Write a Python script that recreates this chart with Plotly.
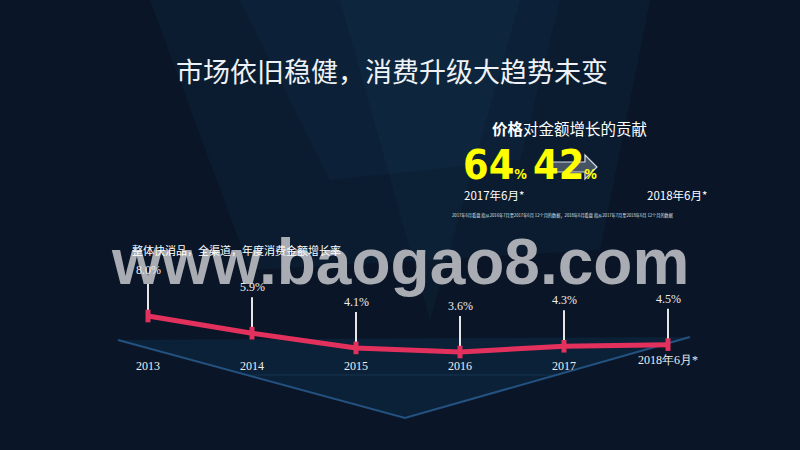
import plotly.graph_objects as go

# ---- data ----
categories = ["2013", "2014", "2015", "2016", "2017", "2018年6月*"]
growth = [8.0, 5.9, 4.1, 3.6, 4.3, 4.5]
value_labels = ["8.0%", "5.9%", "4.1%", "3.6%", "4.3%", "4.5%"]
price_share_periods = ["2017年6月*", "2018年6月*"]
price_share = [64, 42]

W, H = 800, 450
def px(x, y):
    return x / W, 1 - y / H

BG = "#0a1628"
STEM = 4.4  # stem height in data units
idx = list(range(len(categories)))

fig = go.Figure()

# stems (white) via error bars
fig.add_trace(go.Scatter(
    x=idx, y=growth, mode="markers",
    marker=dict(size=1, color="rgba(0,0,0,0)"),
    error_y=dict(type="data", symmetric=False, array=[STEM] * len(growth),
                 arrayminus=[0] * len(growth), color="#e6e6e6", thickness=2, width=0),
    hoverinfo="skip", showlegend=False))

# pink line
fig.add_trace(go.Scatter(
    x=idx, y=growth, mode="lines+markers",
    line=dict(color="#e3315e", width=5),
    marker=dict(size=9, color="#e3315e", symbol="line-ns", line=dict(width=5, color="#e3315e")),
    hoverinfo="skip", showlegend=False))

# x scale: index 0 -> px 148, spacing 104 px
x0, dx = 148, 104
xr = [-x0 / dx, (W - x0) / dx]
# y scale: 8.0 -> px 316, 3.6 -> px 352
k = 36 / 4.4
y_top = 8.0 + 316 / k
y_bot = 8.0 - (H - 316) / k

def pth(points, close=True):
    s = ""
    for i, (x, y) in enumerate(points):
        a, b = px(x, y)
        s += ("M " if i == 0 else " L ") + f"{a:.4f},{b:.4f}"
    return s + (" Z" if close else "")

shapes = []
# soft light in upper centre
shapes.append(dict(type="path", xref="paper", yref="paper", layer="below",
                   path=pth([(150, 0), (650, 0), (600, 250), (250, 270)]),
                   fillcolor="rgba(25,70,105,0.12)", line=dict(width=0)))
shapes.append(dict(type="path", xref="paper", yref="paper", layer="below",
                   path=pth([(240, 0), (560, 0), (520, 160), (330, 180)]),
                   fillcolor="rgba(25,75,110,0.12)", line=dict(width=0)))
shapes.append(dict(type="path", xref="paper", yref="paper", layer="below",
                   path=pth([(340, 0), (520, 0), (430, 320)]),
                   fillcolor="rgba(30,85,125,0.09)", line=dict(width=0)))
# chevron
shapes.append(dict(type="path", xref="paper", yref="paper", layer="below",
                   path=pth([(118, 340), (405, 418), (690, 337)]),
                   fillcolor="rgba(18,60,95,0.30)", line=dict(width=0)))
shapes.append(dict(type="path", xref="paper", yref="paper", layer="below",
                   path=pth([(118, 340), (405, 418), (690, 337)], close=False),
                   line=dict(color="rgba(45,100,155,0.75)", width=2)))
shapes.append(dict(type="line", xref="paper", yref="paper", layer="below",
                   x0=px(250, 375)[0], y0=px(250, 375)[1], x1=px(560, 375)[0], y1=px(560, 375)[1],
                   line=dict(color="rgba(40,90,130,0.35)", width=1)))
# arrow behind 42%
shapes.append(dict(type="path", xref="paper", yref="paper", layer="below",
                   path=pth([(548, 162), (585, 162), (585, 155), (597, 167),
                             (585, 179), (585, 172), (548, 172)]),
                   fillcolor="rgba(120,130,145,0.55)",
                   line=dict(color="#d8dde3", width=1.2)))

ann = []
def text(x, y, t, size, color="white", family="Noto Sans CJK SC", xanchor="center", yanchor="middle"):
    a, b = px(x, y)
    ann.append(dict(x=a, y=b, xref="paper", yref="paper", text=t, showarrow=False,
                    font=dict(size=size, color=color, family=family),
                    xanchor=xanchor, yanchor=yanchor))

# watermark
text(400, 262, "<b>www.baogao8.com</b>", 64, color="#a9acb2", family="Liberation Sans")
# title
text(392, 70, "市场依旧稳健，消费升级大趋势未变", 27, color="#eef2f6")
# price contribution
text(490, 128, "<b>价格</b>对金额增长的贡献", 15.5, xanchor="left")
COND = ("<span style='font-stretch:condensed'><b>{}</b></span>"
        "<span style='font-size:14px;font-stretch:condensed'><b>%</b></span>")
text(461, 165, COND.format(price_share[0]), 41,
     color="#ffff00", family="DejaVu Sans", xanchor="left")
text(531, 165, COND.format(price_share[1]), 41,
     color="#ffff00", family="DejaVu Sans", xanchor="left")
text(462, 195, price_share_periods[0], 11.5, xanchor="left")
text(645, 195, price_share_periods[1], 11.5, xanchor="left")
text(450, 215, "2017年6月看盘 指从2016年7月至2017年6月 12个月的数据，2018年6月看盘 指从2017年7月至2018年6月 12个月的数据",
     4.2, color="#dfe5ea", xanchor="left")
# chart subtitle
text(130, 250, "整体快消品，全渠道，年度消费金额增长率", 11, xanchor="left")

# value labels at top of stems
for i, v, lab in zip(idx, growth, value_labels):
    ann.append(dict(x=i, y=v + STEM, xref="x", yref="y", text=lab, showarrow=False,
                    yanchor="bottom", yshift=1,
                    font=dict(size=12, color="#eeeeee", family="Liberation Serif")))
# category labels
for i, c in zip(idx, categories):
    a, b = px(0, 366 if c != categories[-1] else 360)
    ann.append(dict(x=i, y=b, xref="x", yref="paper", text=c, showarrow=False,
                    xanchor="center", yanchor="middle",
                    font=dict(size=12, color="#eeeeee", family="Liberation Serif")))

fig.update_layout(
    width=W, height=H, margin=dict(l=0, r=0, t=0, b=0),
    paper_bgcolor=BG, plot_bgcolor="rgba(0,0,0,0)",
    xaxis=dict(range=xr, visible=False, fixedrange=True),
    yaxis=dict(range=[y_bot, y_top], visible=False, fixedrange=True),
    shapes=shapes, annotations=ann, showlegend=False,
)
fig.write_html("out.html", config={"displayModeBar": False},
               post_script="document.body.style.margin='0';document.body.style.padding='0';document.body.style.overflow='hidden';document.body.style.background='#0a1628';")
